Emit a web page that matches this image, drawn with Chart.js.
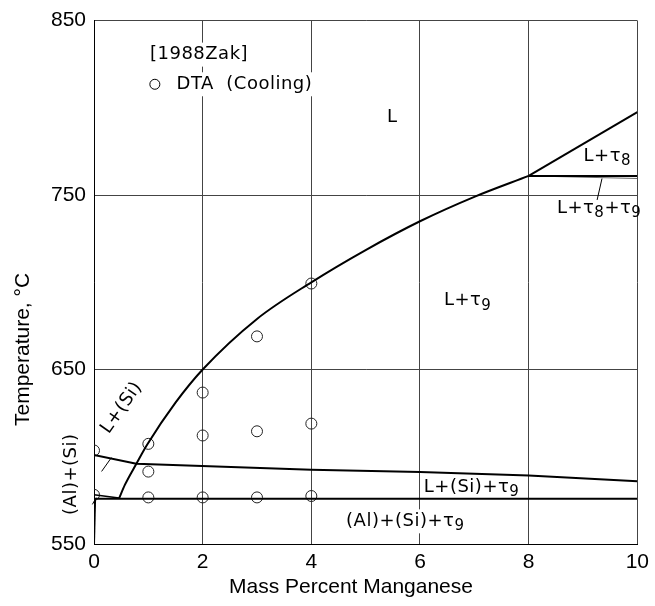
<!DOCTYPE html>
<html>
<head>
<meta charset="utf-8">
<script src="https://cdn.jsdelivr.net/npm/chart.js@4/dist/chart.umd.min.js"></script>
<style>
  body { margin: 0; background: #fff; }
</style>
</head>
<body>
<canvas id="phase" width="655" height="606"></canvas>
<script>
// DTA cooling points [1988Zak]
var dtaMn = [0, 0, 1, 1, 1, 2, 2, 2, 3, 3, 3, 4, 4, 4];
var dtaT  = [603.6, 578.2, 607.4, 591.5, 576.7, 636.8, 612.2, 576.7, 669, 614.6, 576.7, 699.3, 619, 577.5];

// phase boundaries
var tau9LiqMn = [0.46, 0.57, 0.78, 0.98, 1.5, 2, 3, 4, 5, 6, 7, 8];
var tau9LiqT  = [576, 584, 596, 607, 631, 650, 679, 700, 718.5, 735, 749, 761];
var tau8LiqMn = [8, 10];
var tau8LiqT  = [761, 797.5];
var siLiqMn = [0, 0.78, 4, 6, 8, 10];
var siLiqT  = [601, 596, 592.5, 591.3, 589.2, 586];
var alLiqMn = [0, 0.46];
var alLiqT  = [578.3, 576.4];
var eutMn = [0.02, 10];
var eutT  = [576, 576];
var solvusMn = [0, 0.02];
var solvusT  = [550, 576];
var perMn = [8, 10];
var perT  = [761, 761];
var perLowMn = [8, 10];
var perLowT  = [761, 759.5];

var tempTicks = [550, 650, 750, 850];
var mnTicks = [0, 2, 4, 6, 8, 10];

var xTitle = 'Mass Percent Manganese';
var yTitle = 'Temperature, °C';

var labels = [
  {text: '[1988Zak]', x: 1.03, y: 830.5, bg: true},
  {text: 'DTA  (Cooling)', x: 1.52, y: 813.5, bg: true},
  {text: 'L', x: 5.49, y: 794.7, align: 'center'},
  {text: 'L+τ_8', x: 9.01, y: 772.3},
  {text: 'L+τ_8+τ_9', x: 8.52, y: 742.4},
  {text: 'L+τ_9', x: 6.44, y: 689.4},
  {text: 'L+(Si)+τ_9', x: 6.07, y: 582.4},
  {text: '(Al)+(Si)+τ_9', x: 4.64, y: 563, bg: true},
  {text: 'L+(Si)', x: 0.51, y: 628, align: 'center', rot: -55},
  {text: '(Al)+(Si)', x: -0.42, y: 590, align: 'center', rot: -90}
];
var legendMark = {x: 1.12, y: 813.5};

function pts(xs, ys) {
  return xs.map(function (v, i) { return {x: v, y: ys[i]}; });
}

function boundary(xs, ys, w, extra) {
  var ds = {data: pts(xs, ys), showLine: true, pointRadius: 0, borderColor: '#000',
            borderWidth: w, fill: false};
  return Object.assign(ds, extra || {});
}

var innerFont = '"DejaVu Sans", "Liberation Sans", sans-serif';
var axisFont = '"Liberation Sans", Arial, sans-serif';

function segs(text) {
  var out = [];
  for (var i = 0; i < text.length; i++) {
    if (text[i] == '_') { out.push({t: text[i + 1], sub: true}); i++; }
    else if (out.length && !out[out.length - 1].sub) out[out.length - 1].t += text[i];
    else out.push({t: text[i], sub: false});
  }
  return out;
}

function drawLabel(ctx, lab, px, py) {
  var size = 18, sub = 15;
  var s = segs(lab.text);
  var w = 0;
  ctx.save();
  ctx.letterSpacing = '0.5px';
  s.forEach(function (p) {
    ctx.font = (p.sub ? sub : size) + 'px ' + innerFont;
    p.w = ctx.measureText(p.t).width;
    w += p.w;
  });
  ctx.translate(px, py);
  if (lab.rot) ctx.rotate(lab.rot * Math.PI / 180);
  var x0 = lab.align == 'center' ? -w / 2 : 0;
  if (lab.bg) {
    ctx.fillStyle = '#fff';
    ctx.fillRect(x0 - 2, -size / 2 - 3, w + 4, size + 6);
  }
  ctx.fillStyle = '#000';
  ctx.textBaseline = 'middle';
  ctx.textAlign = 'left';
  s.forEach(function (p) {
    ctx.font = (p.sub ? sub : size) + 'px ' + innerFont;
    ctx.fillText(p.t, x0, p.sub ? 5 : 0);
    x0 += p.w;
  });
  ctx.restore();
}

var labelPlugin = {
  id: 'phaseLabels',
  afterDatasetsDraw: function (chart) {
    var ctx = chart.ctx, xs = chart.scales.x, ys = chart.scales.y;
    labels.forEach(function (lab) {
      drawLabel(ctx, lab, xs.getPixelForValue(lab.x), ys.getPixelForValue(lab.y));
    });
    ctx.save();
    ctx.strokeStyle = '#000';
    ctx.lineWidth = 1;
    ctx.beginPath();
    ctx.arc(xs.getPixelForValue(legendMark.x), ys.getPixelForValue(legendMark.y), 5, 0, Math.PI * 2);
    ctx.stroke();

    // axis titles, placed a bit off-centre like the original
    ctx.fillStyle = '#000';
    ctx.font = '21px ' + axisFont;
    ctx.textAlign = 'center';
    ctx.textBaseline = 'middle';
    ctx.fillText(xTitle, xs.getPixelForValue(4.73), 587);
    ctx.translate(23, ys.getPixelForValue(661.5));
    ctx.rotate(-Math.PI / 2);
    ctx.fillText(yTitle, 0, 0);
    ctx.restore();
  }
};

var ctx = document.getElementById('phase').getContext('2d');
var phaseChart = new Chart(ctx, {
  type: 'scatter',
  data: {
    datasets: [
      boundary(tau9LiqMn, tau9LiqT, 2, {cubicInterpolationMode: 'monotone'}),
      boundary(tau8LiqMn, tau8LiqT, 2),
      boundary(siLiqMn, siLiqT, 2),
      boundary(alLiqMn, alLiqT, 1.5),
      boundary(eutMn, eutT, 2),
      boundary(solvusMn, solvusT, 2),
      boundary(perMn, perT, 2),
      boundary(perLowMn, perLowT, 1, {borderColor: '#666'}),
      // leader lines
      boundary([9.35, 9.26], [759.5, 747.2], 1),
      boundary([0.14, 0.32], [591.6, 599.5], 1),
      boundary([-0.03, 0.04], [572.7, 576.5], 1, {clip: false}),
      {
        data: pts(dtaMn, dtaT),
        pointRadius: 5.5,
        pointHoverRadius: 5.5,
        pointBorderColor: '#222',
        pointBorderWidth: 1,
        pointBackgroundColor: 'rgba(0,0,0,0)',
        showLine: false
      }
    ]
  },
  options: {
    responsive: false,
    animation: false,
    events: [],
    layout: {padding: {top: 16, right: 16, left: 0, bottom: 0}},
    plugins: {legend: {display: false}, tooltip: {enabled: false}},
    scales: {
      x: {
        type: 'linear',
        min: 0, max: 10,
        afterBuildTicks: function (s) { s.ticks = mnTicks.map(function (v) { return {value: v}; }); },
        afterFit: function (s) { s.height = 62; },
        grid: {color: '#444', lineWidth: 1, drawTicks: false},
        border: {color: '#000', width: 1},
        ticks: {padding: 6, color: '#000', font: {family: axisFont, size: 21}},
        title: {display: false}
      },
      y: {
        type: 'linear',
        min: 550, max: 850,
        afterBuildTicks: function (s) { s.ticks = tempTicks.map(function (v) { return {value: v}; }); },
        afterFit: function (s) { s.width = 94; },
        grid: {color: '#444', lineWidth: 1, drawTicks: false},
        border: {color: '#000', width: 1},
        ticks: {padding: 8, color: '#000', font: {family: axisFont, size: 21}},
        title: {display: false}
      }
    }
  },
  plugins: [labelPlugin]
});
</script>
</body>
</html>
